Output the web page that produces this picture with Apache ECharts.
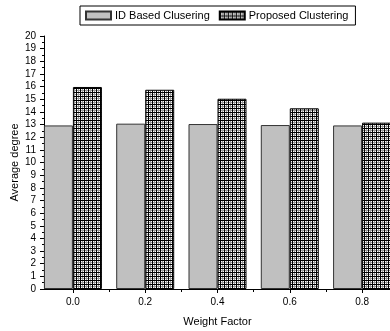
<!DOCTYPE html>
<html>
<head>
<meta charset="utf-8">
<style>
  html, body { margin: 0; padding: 0; background: #fff; }
  #chart { width: 390px; height: 331px; }
</style>
<script src="https://cdn.jsdelivr.net/npm/echarts@6/dist/echarts.min.js"></script>
</head>
<body>
<div id="chart"></div>
<script>
// weight factor positions and the two series
const weightFactors = [0.0, 0.2, 0.4, 0.6, 0.8];
const idBased = [12.93, 13.07, 13.04, 12.96, 12.93];
const proposed = [15.97, 15.75, 15.04, 14.28, 13.15];
const minorTicks = [0.1, 0.3, 0.5, 0.7];

// grid hatch for the proposed bars
function makeGrid() {
  const c = document.createElement('canvas');
  c.width = 4;
  c.height = 4;
  const ctx = c.getContext('2d');
  ctx.fillStyle = '#fff';
  ctx.fillRect(0, 0, 4, 4);
  ctx.fillStyle = '#999';
  ctx.fillRect(2, 0, 1, 4);
  ctx.fillRect(0, 2, 4, 1);
  ctx.fillStyle = '#000';
  ctx.fillRect(0, 0, 1, 4);
  ctx.fillRect(0, 0, 4, 1);
  return c;
}

const font = 'Liberation Sans, Arial, sans-serif';
const chart = echarts.init(document.getElementById('chart'));

chart.setOption({
  animation: false,
  textStyle: { fontFamily: font },
  legend: {
    left: 80,
    top: 6,
    width: 277,
    padding: [4, 7, 4, 5],
    borderColor: '#000',
    borderWidth: 1,
    itemWidth: 25,
    itemHeight: 8,
    itemGap: 9,
    icon: 'rect',
    textStyle: { fontSize: 11, color: '#000', fontFamily: font, padding: [0, 0, 0, -1] },
    data: ['ID Based Clusering', 'Proposed Clustering']
  },
  grid: { left: 44, top: 36, width: 347, height: 253, outerBoundsMode: 'none', containLabel: false },
  xAxis: [{
    type: 'value',
    min: -0.08,
    max: 0.88,
    name: 'Weight Factor',
    nameLocation: 'middle',
    nameMoveOverlap: false,
    nameGap: 27,
    nameTextStyle: { fontSize: 11, color: '#000' },
    axisLine: { lineStyle: { color: '#000' } },
    axisTick: { length: 4, customValues: weightFactors, lineStyle: { color: '#000' } },
    axisLabel: {
      customValues: weightFactors,
      fontSize: 10,
      color: '#000',
      margin: 8,
      formatter: v => v.toFixed(1)
    },
    splitLine: { show: false }
  }, {
    type: 'value',
    min: -0.08,
    max: 0.88,
    position: 'bottom',
    axisLine: { show: false },
    axisTick: { length: 3, customValues: minorTicks, lineStyle: { color: '#000' } },
    axisLabel: { show: false },
    splitLine: { show: false }
  }],
  yAxis: {
    type: 'value',
    min: 0,
    max: 20,
    interval: 1,
    name: 'Average degree',
    nameLocation: 'middle',
    nameMoveOverlap: false,
    nameGap: 24,
    nameTextStyle: { fontSize: 11, color: '#000' },
    axisLine: { show: true, onZero: false, lineStyle: { color: '#000' } },
    axisTick: { show: true, length: 4, lineStyle: { color: '#000' } },
    minorTick: { show: true, splitNumber: 2, length: 2, lineStyle: { color: '#000' } },
    axisLabel: { fontSize: 10, color: '#000', margin: 8 },
    splitLine: { show: false }
  },
  series: [{
    name: 'ID Based Clusering',
    type: 'bar',
    barWidth: 29,
    barGap: '0%',
    data: weightFactors.map((x, i) => [x, idBased[i]]),
    itemStyle: { color: '#c0c0c0', borderColor: '#333', borderWidth: 1 }
  }, {
    name: 'Proposed Clustering',
    type: 'bar',
    barWidth: 29,
    barGap: '0%',
    data: weightFactors.map((x, i) => [x, proposed[i]]),
    itemStyle: {
      color: { image: makeGrid(), repeat: 'repeat' },
      borderColor: '#000',
      borderWidth: 1
    }
  }]
});
</script>
</body>
</html>
